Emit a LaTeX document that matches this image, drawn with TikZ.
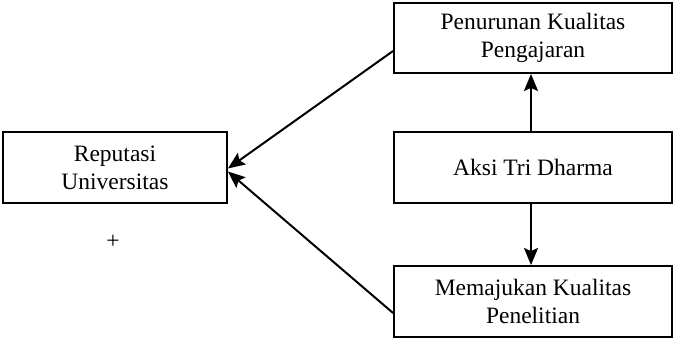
\documentclass[tikz,border=0pt]{standalone}
\usepackage{fontspec}
\setmainfont{Liberation Serif}
\usetikzlibrary{arrows.meta}
\begin{document}
\begin{tikzpicture}[x=1pt,y=-1pt,
  box/.style={draw, line width=1.9pt, align=center, inner sep=0pt, font=\fontsize{23.5}{28}\selectfont},
  arr/.style={line width=2pt, -{Stealth[length=17pt,width=14pt,inset=3pt]}}]
\useasboundingbox (0,0) rectangle (674,339);
\node[box, minimum width=278pt, minimum height=70pt] (top) at (533,38) {Penurunan Kualitas\\Pengajaran};
\node[box, minimum width=278pt, minimum height=71pt] (mid) at (533,167.5) {Aksi Tri Dharma};
\node[box, minimum width=278pt, minimum height=71pt] (bot) at (533,301.5) {Memajukan Kualitas\\Penelitian};
\node[box, minimum width=224pt, minimum height=71pt] (rep) at (115,167.5) {Reputasi\\Universitas};
\node[font=\fontsize{23.5}{28}\selectfont, inner sep=0pt] (plus) at (113,242) {+};
\draw[arr] ([xshift=-2pt]mid.north) -- ([xshift=-2pt]top.south);
\draw[arr] ([xshift=-2pt]mid.south) -- ([xshift=-2pt]bot.north);
\draw[arr] ([yshift=-13pt]top.west) -- ([yshift=-1pt]rep.east);
\draw[arr] ([yshift=-11.5pt]bot.west) -- ([yshift=-4pt]rep.east);
\end{tikzpicture}
\end{document}
